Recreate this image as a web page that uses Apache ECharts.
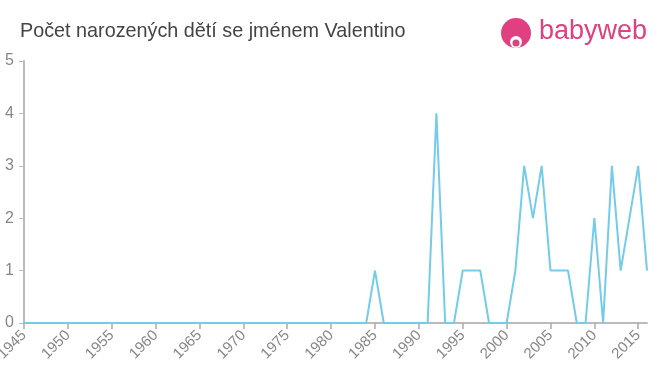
<!DOCTYPE html>
<html><head><meta charset="utf-8">
<script src="https://cdn.jsdelivr.net/npm/echarts@6/dist/echarts.min.js"></script>
<style>html,body{margin:0;padding:0;background:#fff}#c{width:660px;height:375px}</style>
</head><body><div id="c"></div>
<script>
const title = 'Počet narozených dětí se jménem Valentino';
const years = [];
for (let y = 1945; y <= 2016; y++) years.push(y);
const nonZero = {1985:1,1992:4,1995:1,1996:1,1997:1,2001:1,2002:3,2003:2,2004:3,2005:1,2006:1,2007:1,2010:2,2012:3,2013:1,2014:2,2015:3,2016:1};
const counts = years.map(y => nonZero[y] || 0);
const yTicks = [0,1,2,3,4,5];

const chart = echarts.init(document.getElementById('c'));
chart.setOption({
  animation:false,
  title:{text:title,left:15,top:17,textStyle:{fontFamily:'Liberation Sans, Arial',fontSize:19.8,fontWeight:'normal',color:'#444'}},
  grid:{left:24,right:13,top:61,bottom:52,containLabel:false,outerBoundsMode:'none'},
  xAxis:{type:'value',min:1945,max:2016,interval:5,
    axisLine:{lineStyle:{color:'#bbb',width:2}},
    axisTick:{show:true,length:6,lineStyle:{color:'#aaa',width:1.5}},
    splitLine:{show:false},
    axisLabel:{rotate:45,color:'#888',fontSize:15,fontFamily:'Liberation Sans, Arial',margin:10,showMaxLabel:false,
      formatter:v=>String(v)}},
  yAxis:{type:'value',min:0,max:5,interval:1,
    axisLine:{show:true,lineStyle:{color:'#bbb',width:2}},
    axisTick:{show:true,length:5,lineStyle:{color:'#bbb'}},
    splitLine:{show:false},
    axisLabel:{color:'#888',fontSize:16,fontFamily:'Liberation Sans, Arial',margin:10,formatter:v=>String(v)}},
  series:[{type:'line',data:years.map((y,i)=>[y,counts[i]]),showSymbol:false,
    lineStyle:{color:'#74cbea',width:2},itemStyle:{color:'#74cbea'}}],
  graphic:[
    {type:'circle',shape:{cx:516,cy:33,r:15},style:{fill:'#e0407f'}},
    {type:'circle',shape:{cx:516,cy:42,r:6},style:{fill:'#fff'}},
    {type:'circle',shape:{cx:516,cy:43,r:3.5},style:{fill:'#e0407f'}},
    {type:'text',left:539,top:18,style:{text:'babyweb',fill:'#e0407f',font:'27px Liberation Sans, Arial'}}
  ]
});
</script></body></html>
